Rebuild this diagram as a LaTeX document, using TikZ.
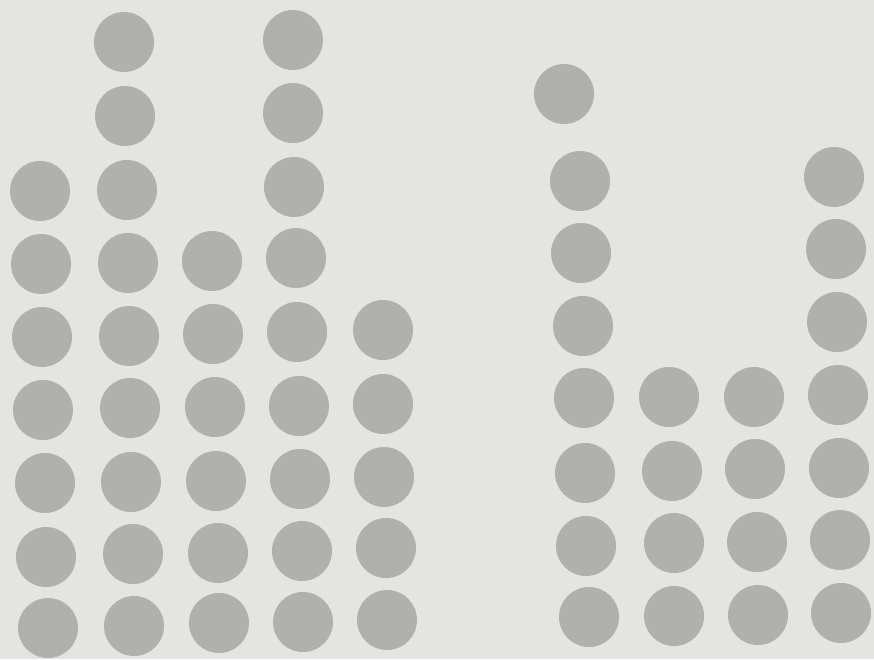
\documentclass[tikz,border=0pt]{standalone}
\usepackage{tikz}
\definecolor{paper}{RGB}{228,228,226}
\definecolor{dotgray}{RGB}{176,176,174}
\tikzset{
  dot/.style={circle, minimum size=60*0.02cm, inner sep=0pt, fill=dotgray},
}

\begin{document}
\begin{tikzpicture}[x=0.02cm, y=-0.02cm]

% Page background
\fill[paper] (0,0) rectangle (874,659);
\useasboundingbox (0,0) rectangle (874,659);

% Left group
\foreach \x/\y [count=\i] in {124/42, 293/40, 125/116, 293/113,
    40/191, 127/190, 294/187,
    41/264, 128/263, 212/261, 296/258,
    42/337, 129/336, 213/334, 297/332, 383/330,
    43/410, 130/408, 215/407, 299/406, 383/404,
    45/483, 131/482, 216/481, 300/479, 384/477,
    46/557, 133/554, 218/553, 302/551, 386/548,
    48/628, 134/626, 219/623, 303/622, 387/620}
  \node[dot] (l\i) at (\x,\y) {};

% Right group
\foreach \x/\y [count=\i] in {564/94,
    580/181, 834/177,
    581/253, 836/249,
    583/326, 837/322,
    584/398, 669/397, 754/397, 838/395,
    585/473, 672/471, 755/469, 839/468,
    586/546, 674/543, 757/542, 840/540,
    589/617, 674/616, 758/615, 841/613}
  \node[dot] (r\i) at (\x,\y) {};

\end{tikzpicture}
\end{document}
